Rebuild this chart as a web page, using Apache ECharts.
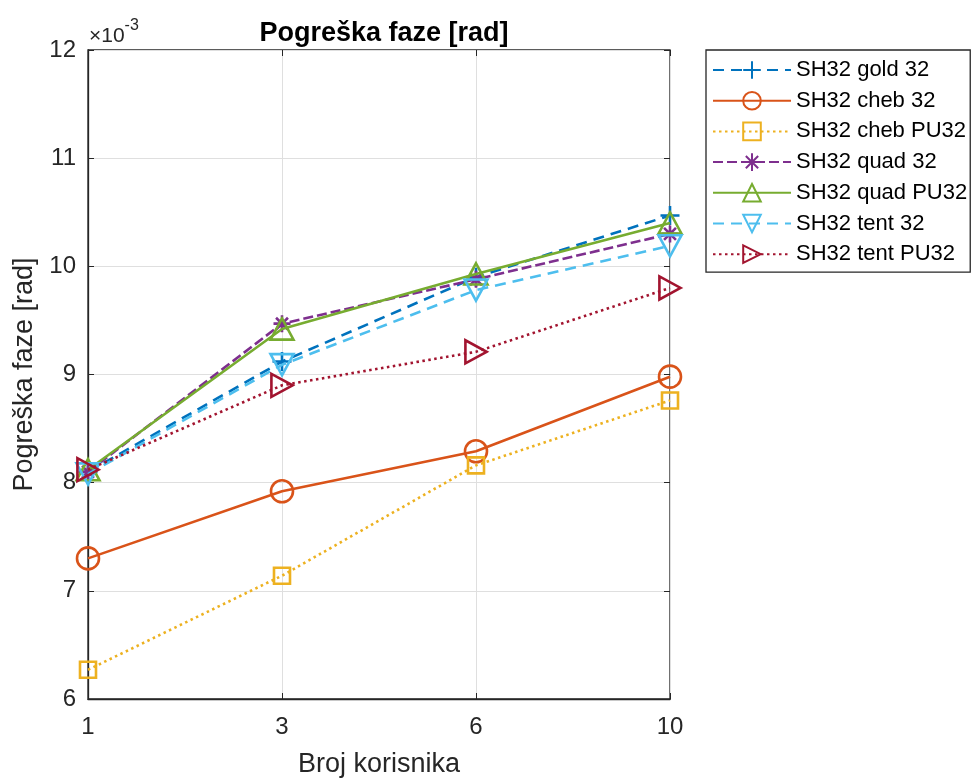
<!DOCTYPE html>
<html><head><meta charset="utf-8">
<script src="https://cdn.jsdelivr.net/npm/echarts@6/dist/echarts.min.js"></script>
<style>html,body{margin:0;padding:0;background:#fff}#c{width:972px;height:780px}</style>
</head><body><div id="c"></div>
<script>
// values in units of 1e-3 rad
const categories = ['1', '3', '6', '10'];
const seriesNames = ['SH32 gold 32','SH32 cheb 32','SH32 cheb PU32','SH32 quad 32','SH32 quad PU32','SH32 tent 32','SH32 tent PU32'];
const gold32    = [8.10, 9.12, 9.90, 10.47];
const cheb32    = [7.30, 7.92, 8.29, 8.98];
const chebPU32  = [6.27, 7.14, 8.16, 8.76];
const quad32    = [8.10, 9.47, 9.88, 10.30];
const quadPU32  = [8.12, 9.42, 9.93, 10.40];
const tent32    = [8.08, 9.09, 9.78, 10.19];
const tentPU32  = [8.12, 8.90, 9.21, 9.80];
const yTicks = {min: 6, max: 12, interval: 1};

const colors = ['#0072BD','#D95319','#EDB120','#7E2F8E','#77AC30','#4DBEEE','#A2142F'];
const plus = 'path://M0,-1L0,1M-1,0L1,0';
const star = 'path://M0,-1L0,1M-1,0L1,0M-0.7,-0.7L0.7,0.7M-0.7,0.7L0.7,-0.7';
const tri = 'path://M0,-1L0.95,0.75L-0.95,0.75Z';
const triDown = 'path://M0,1L0.95,-0.75L-0.95,-0.75Z';
const triRight = 'path://M1,0L-0.75,0.95L-0.75,-0.95Z';
const styles = [
  {data: gold32,   sym: plus,     size: 19, type: [11,7]},
  {data: cheb32,   sym: 'circle', size: 22, type: 'solid'},
  {data: chebPU32, sym: 'rect',   size: 16, type: [2.5,3.5]},
  {data: quad32,   sym: star,     size: 17, type: [10,4]},
  {data: quadPU32, sym: tri,      size: 23, type: 'solid'},
  {data: tent32,   sym: triDown,  size: 23, type: [11,7]},
  {data: tentPU32, sym: triRight, size: 23, type: [2.5,3.5]}
];
const series = styles.map((s, i) => ({
  name: seriesNames[i], type: 'line', data: s.data,
  symbol: s.sym, symbolSize: s.size, symbolKeepAspect: true,
  lineStyle: {color: colors[i], width: 2.6, type: s.type},
  itemStyle: {color: 'rgba(0,0,0,0)', borderColor: colors[i], borderWidth: 2.6},
  emphasis: {disabled: true}, animation: false, z: 3 + i
}));

const txt = '#262626';
const F = 'Liberation Sans';
const chart = echarts.init(document.getElementById('c'));
chart.setOption({
  animation: false,
  title: {text: 'Pogreška faze [rad]', left: 379, textAlign: 'center', top: 15,
    textStyle: {fontFamily: F, fontSize: 27, fontWeight: 'bold', color: '#000'}},
  grid: {left: 88, right: 302, top: 50, bottom: 81, show: true, borderColor: txt, borderWidth: 1.3,
    backgroundColor: '#fff', containLabel: false, outerBoundsMode: 'none'},
  legend: {
    orient: 'vertical', left: 706, top: 50, width: 256,
    padding: [9, 3, 7, 6], itemGap: 8.7, itemWidth: 78, itemHeight: 22,
    borderColor: txt, borderWidth: 1.3, backgroundColor: '#fff',
    textStyle: {fontFamily: F, fontSize: 22, color: '#000'},
    data: seriesNames
  },
  xAxis: [{
    type: 'category', data: categories, boundaryGap: false,
    name: 'Broj korisnika', nameLocation: 'middle', nameGap: 52,
    nameTextStyle: {fontFamily: F, fontSize: 27, color: txt},
    axisLine: {lineStyle: {color: txt, width: 1.3}},
    axisTick: {inside: true, length: 6, lineStyle: {color: txt}},
    axisLabel: {fontFamily: F, fontSize: 24, color: txt, margin: 16},
    splitLine: {show: true, lineStyle: {color: '#dfdfdf', width: 1}}
  }, {
    type: 'category', data: categories, boundaryGap: false, position: 'top',
    axisLine: {show: false}, axisTick: {inside: true, length: 6, lineStyle: {color: txt}},
    axisLabel: {show: false}, splitLine: {show: false}
  }],
  yAxis: [{
    type: 'value', min: yTicks.min, max: yTicks.max, interval: yTicks.interval,
    name: 'Pogreška faze [rad]', nameLocation: 'middle', nameGap: 46,
    nameTextStyle: {fontFamily: F, fontSize: 27, color: txt},
    axisLine: {show: true, lineStyle: {color: txt, width: 1.3}},
    axisTick: {show: true, inside: true, length: 6, lineStyle: {color: txt}},
    axisLabel: {fontFamily: F, fontSize: 24, color: txt, margin: 12},
    splitLine: {show: true, lineStyle: {color: '#dfdfdf', width: 1}}
  }, {
    type: 'value', min: yTicks.min, max: yTicks.max, interval: yTicks.interval, position: 'right',
    axisLine: {show: false}, axisTick: {show: true, inside: true, length: 6, lineStyle: {color: txt}},
    axisLabel: {show: false}, splitLine: {show: false}
  }],
  graphic: [{
    type: 'text', left: 89, top: 18,
    style: {
      text: '{a|×10}{b|-3}',
      rich: {
        a: {fontFamily: F, fontSize: 21, fill: txt, verticalAlign: 'bottom', padding: [8,0,0,0]},
        b: {fontFamily: F, fontSize: 16, fill: txt, verticalAlign: 'top'}
      }
    }
  }],
  series: series
});
</script></body></html>
